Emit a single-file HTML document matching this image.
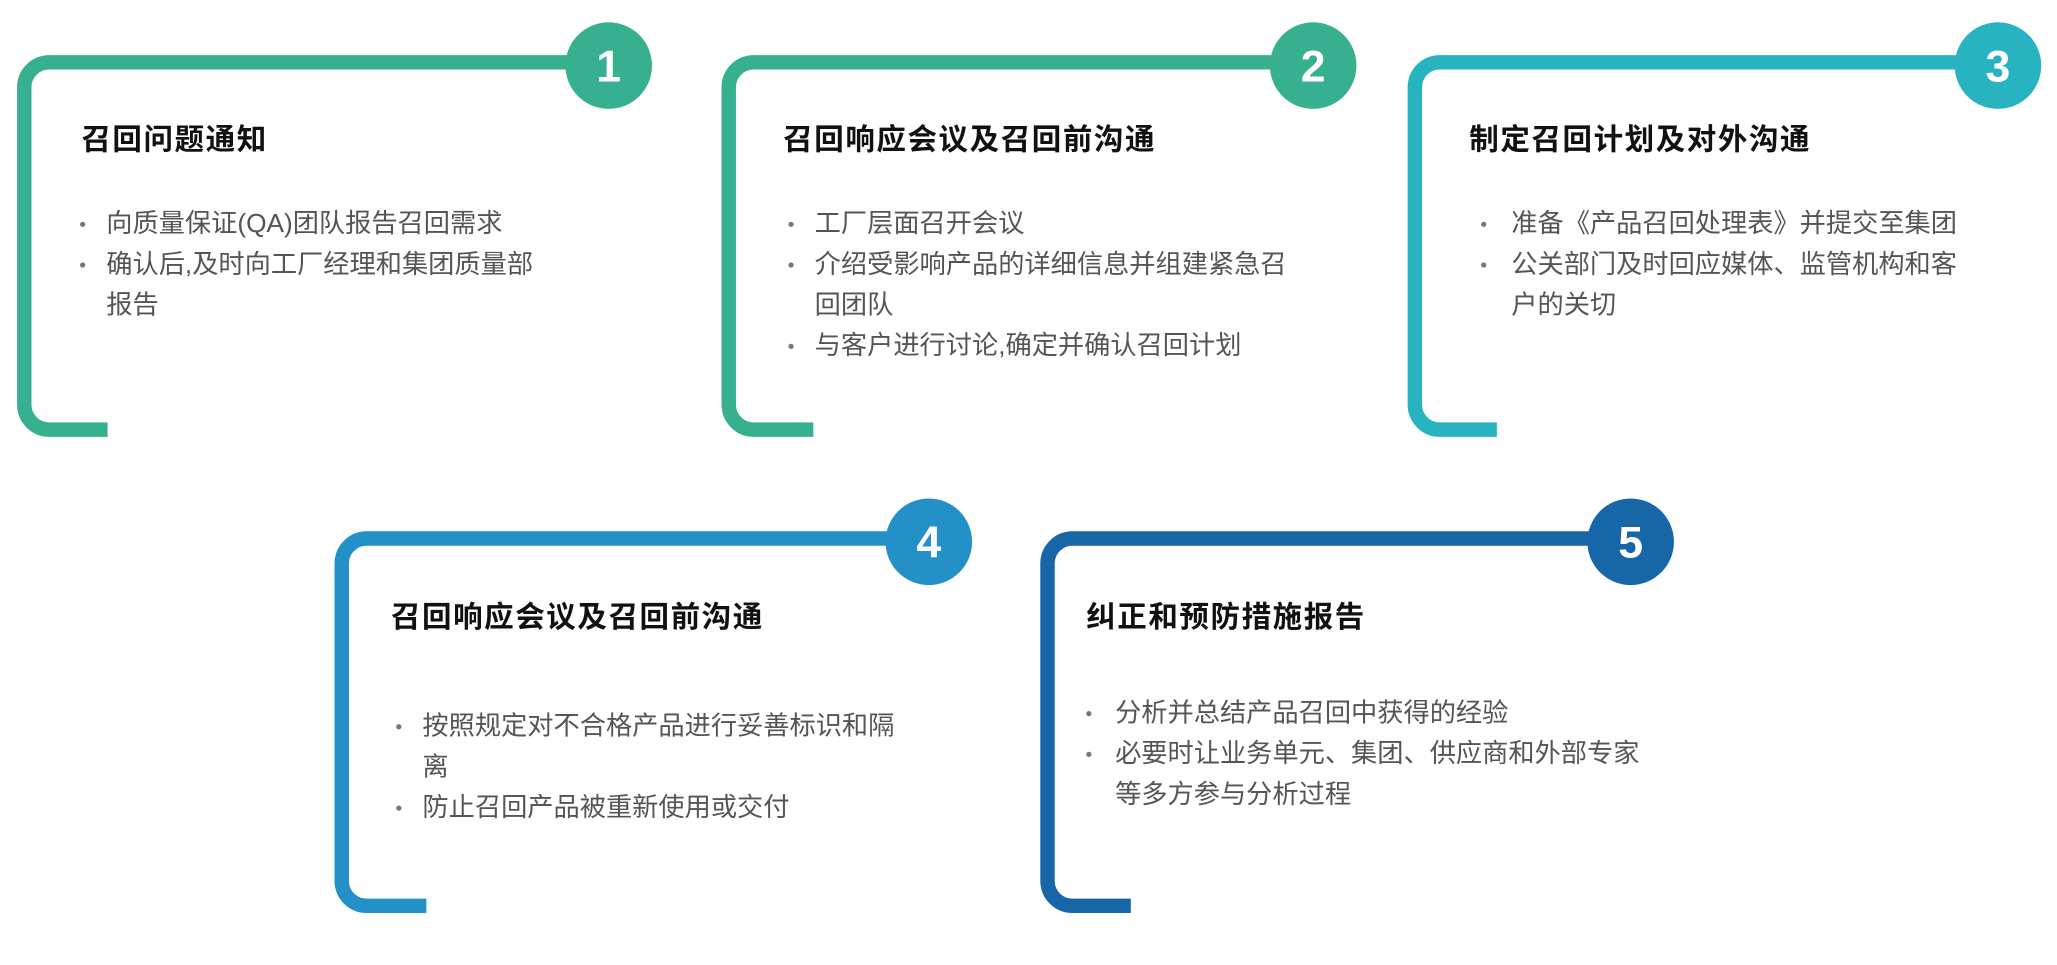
<!DOCTYPE html>
<html><head><meta charset="utf-8"><style>
html,body{margin:0;padding:0;background:#fff;width:2057px;height:965px;overflow:hidden}
svg{display:block}
.t{font-family:"Liberation Sans","Noto Sans CJK SC",sans-serif;font-weight:700;font-size:22.5px;fill:#111;letter-spacing:1.2px}
.b{font-family:"Liberation Sans","Noto Sans CJK SC",sans-serif;font-size:20px;fill:#555}
.d{fill:#777}
.n{font-family:"Liberation Sans",sans-serif;font-weight:700;font-size:34px;fill:#fff}
</style></head><body>
<svg width="2057" height="965" viewBox="0 0 1568 735.6" xmlns="http://www.w3.org/2000/svg">
<g fill="none" stroke-width="11">
<path d="M464 47.5H37A19 19 0 0 0 18.5 66V309A19 19 0 0 0 37 327.5H82" stroke="#36b08f"/>
<path d="M1001 47.5H574A19 19 0 0 0 555.5 66V309A19 19 0 0 0 574 327.5H620" stroke="#36b08f"/>
<path d="M1523 47.5H1097A19 19 0 0 0 1078.5 66V309A19 19 0 0 0 1097 327.5H1141" stroke="#27b3bf"/>
<path d="M708 410.5H279A19 19 0 0 0 260.5 429V672A19 19 0 0 0 279 690.5H325" stroke="#2490c8"/>
<path d="M1243 410.5H817A19 19 0 0 0 798.5 429V672A19 19 0 0 0 817 690.5H862" stroke="#1766a8"/>
</g>
<circle cx="464" cy="50" r="33" fill="#36b08f"/>
<circle cx="1001" cy="50" r="33" fill="#36b08f"/>
<circle cx="1523" cy="50" r="33" fill="#27b3bf"/>
<circle cx="708" cy="413" r="33" fill="#2490c8"/>
<circle cx="1243" cy="413" r="33" fill="#1766a8"/>
<g text-anchor="middle">
<text class="n" x="464" y="62">1</text>
<text class="n" x="1001" y="62">2</text>
<text class="n" x="1523" y="62">3</text>
<text class="n" x="708" y="425">4</text>
<text class="n" x="1243" y="425">5</text>
</g>
<text class="t" x="62" y="114">召回问题通知</text>
<text class="b" x="81" y="177">向质量保证(QA)团队报告召回需求</text>
<text class="b" x="81" y="208">确认后,及时向工厂经理和集团质量部</text>
<text class="b" x="81" y="239">报告</text>
<circle class="d" cx="63" cy="171" r="2"/><circle class="d" cx="63" cy="202" r="2"/>

<text class="t" x="597" y="114">召回响应会议及召回前沟通</text>
<text class="b" x="621" y="177">工厂层面召开会议</text>
<text class="b" x="621" y="208">介绍受影响产品的详细信息并组建紧急召</text>
<text class="b" x="621" y="239">回团队</text>
<text class="b" x="621" y="270">与客户进行讨论,确定并确认召回计划</text>
<circle class="d" cx="603" cy="171" r="2"/><circle class="d" cx="603" cy="202" r="2"/><circle class="d" cx="603" cy="264" r="2"/>

<text class="t" x="1120" y="114">制定召回计划及对外沟通</text>
<text class="b" x="1152" y="177">准备《产品召回处理表》并提交至集团</text>
<text class="b" x="1152" y="208">公关部门及时回应媒体、监管机构和客</text>
<text class="b" x="1152" y="239">户的关切</text>
<circle class="d" cx="1131" cy="171" r="2"/><circle class="d" cx="1131" cy="202" r="2"/>

<text class="t" x="298" y="478">召回响应会议及召回前沟通</text>
<text class="b" x="322" y="560">按照规定对不合格产品进行妥善标识和隔</text>
<text class="b" x="322" y="591">离</text>
<text class="b" x="322" y="622">防止召回产品被重新使用或交付</text>
<circle class="d" cx="304" cy="554" r="2"/><circle class="d" cx="304" cy="616" r="2"/>

<text class="t" x="828" y="478">纠正和预防措施报告</text>
<text class="b" x="850" y="550">分析并总结产品召回中获得的经验</text>
<text class="b" x="850" y="581">必要时让业务单元、集团、供应商和外部专家</text>
<text class="b" x="850" y="612">等多方参与分析过程</text>
<circle class="d" cx="830" cy="544" r="2"/><circle class="d" cx="830" cy="575" r="2"/>
</svg>
</body></html>
